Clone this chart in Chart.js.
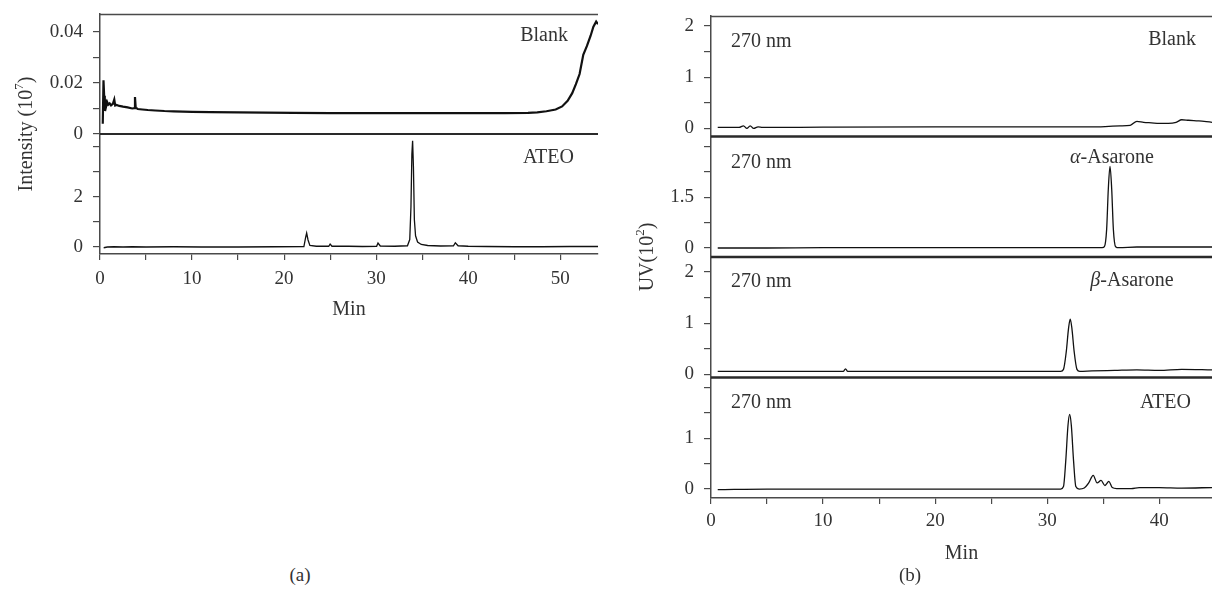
<!DOCTYPE html>
<html>
<head>
<meta charset="utf-8">
<script src="https://cdn.jsdelivr.net/npm/chart.js@4.4.1/dist/chart.umd.min.js"></script>
<style>
  body { margin: 0; background: #fff; width: 1212px; height: 603px; position: relative; overflow: hidden; font-family: "Liberation Serif", serif; }
  #chartA { position: absolute; left: 0; top: 0; }
  #chartB { position: absolute; left: 620px; top: 0; }
  .cap { position: absolute; top: 564px; font-size: 19px; line-height: 22px; color: #333; transform: translateX(-50%); }
</style>
</head>
<body>
<canvas id="chartA" width="610" height="322"></canvas>
<canvas id="chartB" width="592" height="566"></canvas>
<div class="cap" style="left:300px">(a)</div>
<div class="cap" style="left:910px">(b)</div>
<script>
// ---- data ----
// (a) MS total ion chromatograms, intensity in 10^7
const blankA_min = [0.30, 0.38, 0.45, 0.52, 0.60, 0.68, 0.78, 0.90, 1.05, 1.20, 1.40, 1.55, 1.65, 1.80, 2.10, 2.50, 3.00, 3.50, 3.72, 3.80, 3.88, 4.10, 4.60, 5.20, 6.00, 7.00, 8.00, 10.0, 12.0, 15.0, 18.0, 21.0, 25.0, 30.0, 35.0, 40.0, 44.0, 46.5, 47.5, 48.5, 49.5, 50.2, 50.8, 51.3, 51.7, 52.1, 52.5, 52.9, 53.3, 53.6, 53.9, 54.1];
const blankA_int = [0.0040, 0.0210, 0.0150, 0.0090, 0.0135, 0.0110, 0.0125, 0.0115, 0.0120, 0.0112, 0.0118, 0.0135, 0.0112, 0.0114, 0.0110, 0.0107, 0.0104, 0.0100, 0.0101, 0.0145, 0.0103, 0.0098, 0.0096, 0.0094, 0.0092, 0.0090, 0.0089, 0.0087, 0.0086, 0.0085, 0.0084, 0.0083, 0.0082, 0.0082, 0.0082, 0.0082, 0.0082, 0.0083, 0.0085, 0.0089, 0.0096, 0.0108, 0.0130, 0.0160, 0.0195, 0.0235, 0.0310, 0.0345, 0.0385, 0.0420, 0.0440, 0.0430];

const ateoA_min = [0.40, 0.80, 1.50, 2.50, 3.50, 5.0, 8.0, 11.0, 15.0, 19.0, 22.15, 22.35, 22.45, 22.60, 22.80, 23.5, 24.85, 25.00, 25.20, 27.0, 28.5, 30.05, 30.20, 30.45, 32.0, 33.4, 33.65, 33.78, 33.88, 33.96, 34.05, 34.15, 34.28, 34.50, 34.90, 35.6, 37.0, 38.40, 38.60, 38.90, 40.0, 42.0, 45.0, 48.0, 51.0, 54.1];
const ateoA_int = [-0.03, 0.00, 0.01, 0.00, 0.01, 0.00, 0.01, 0.00, 0.00, 0.01, 0.02, 0.40, 0.56, 0.28, 0.06, 0.03, 0.03, 0.12, 0.03, 0.03, 0.02, 0.03, 0.16, 0.04, 0.03, 0.05, 0.30, 1.60, 3.70, 4.25, 3.20, 1.10, 0.45, 0.20, 0.10, 0.06, 0.04, 0.05, 0.17, 0.05, 0.03, 0.02, 0.01, 0.01, 0.02, 0.02];

// (b) UV 270 nm, in 10^2
const blankB_min = [0.6, 2.5, 2.9, 3.2, 3.5, 3.8, 4.2, 4.6, 10.0, 20.0, 30.0, 34.5, 35.5, 36.5, 37.4, 38.0, 38.6, 39.3, 40.0, 40.8, 41.5, 42.0, 42.6, 43.3, 44.0, 44.7];
const blankB_uv  = [0.02, 0.02, 0.05, 0.00, 0.05, 0.00, 0.03, 0.02, 0.025, 0.03, 0.03, 0.03, 0.04, 0.05, 0.06, 0.14, 0.12, 0.11, 0.10, 0.10, 0.12, 0.17, 0.16, 0.15, 0.14, 0.12];

const alphaB_min = [0.6, 5.0, 10.0, 20.0, 30.0, 34.9, 35.1, 35.3, 35.45, 35.6, 35.75, 35.9, 36.1, 36.4, 38.0, 41.0, 44.7];
const alphaB_uv  = [0.0, 0.0, 0.01, 0.01, 0.01, 0.01, 0.04, 0.55, 1.75, 2.41, 1.75, 0.55, 0.04, 0.01, 0.03, 0.03, 0.03];

const betaB_min = [0.6, 5.0, 10.0, 11.8, 12.0, 12.2, 20.0, 31.2, 31.45, 31.7, 31.9, 32.05, 32.2, 32.4, 32.65, 32.9, 34.0, 36.0, 38.0, 40.0, 42.0, 44.7];
const betaB_uv  = [0.06, 0.06, 0.06, 0.06, 0.11, 0.06, 0.06, 0.06, 0.10, 0.45, 0.90, 1.08, 0.90, 0.45, 0.10, 0.06, 0.07, 0.08, 0.09, 0.08, 0.10, 0.09];

const ateoB_min = [0.6, 5.0, 10.0, 20.0, 31.2, 31.45, 31.65, 31.85, 32.0, 32.15, 32.35, 32.55, 32.85, 33.3, 33.7, 34.1, 34.45, 34.8, 35.15, 35.5, 35.8, 36.2, 37.5, 38.2, 40.0, 42.0, 44.7];
const ateoB_uv  = [-0.01, 0.0, 0.0, 0.0, 0.0, 0.05, 0.55, 1.25, 1.47, 1.25, 0.55, 0.05, 0.0, 0.02, 0.12, 0.27, 0.12, 0.17, 0.07, 0.15, 0.03, 0.01, 0.01, 0.03, 0.03, 0.02, 0.03];

// names and tick labels
const panelNamesA = ['Blank', 'ATEO'];
const panelNamesB = ['Blank', 'α-Asarone', 'β-Asarone', 'ATEO'];
const wavelength = '270 nm';
const ticksA_x = [0, 10, 20, 30, 40, 50];
const ticksB_x = [0, 10, 20, 30, 40];
const ticksA_blank = [0, 0.02, 0.04];
const ticksA_ateo = [0, 2];
const ticksB_blank = [0, 1, 2];
const ticksB_alpha = [0, 1.5];
const ticksB_beta = [0, 1, 2];
const ticksB_ateo = [0, 1];

// ---- styling ----
const axisColor = '#4a4a4a';
const textColor = '#333';
const lineColor = '#111';
const serif = '"Liberation Serif", serif';
const tickFont = { family: serif, size: 19 };

function pts(xs, ys) {
    return xs.map((x, i) => ({ x: x, y: ys[i] }));
}

function yAxis(min, max, step, labels, weight, width) {
    return {
        type: 'linear',
        position: 'left',
        stack: 'panels',
        stackWeight: 1,
        weight: weight,
        min: min,
        max: max,
        border: { display: true, color: axisColor, width: 1.5 },
        grid: { drawOnChartArea: false, drawTicks: true, tickLength: 7, color: axisColor, lineWidth: 1.2 },
        ticks: {
            stepSize: step,
            includeBounds: false,
            autoSkip: false,
            padding: 10,
            color: textColor,
            font: tickFont,
            callback: v => labels.some(l => Math.abs(l - v) < 1e-9) ? String(v) : ''
        },
        afterFit: s => {
            s.width = width;
            s.paddingTop = 0; s.paddingBottom = 0;
        }
    };
}

function xAxis(max, labels, pad) {
    return {
        type: 'linear',
        position: 'bottom',
        min: 0,
        max: max,
        border: { display: true, color: axisColor, width: 1.5 },
        grid: { drawOnChartArea: false, drawTicks: true, tickLength: 6, color: axisColor, lineWidth: 1.2 },
        ticks: {
            stepSize: 5,
            includeBounds: false,
            autoSkip: false,
            maxRotation: 0,
            padding: pad,
            color: textColor,
            font: tickFont,
            callback: v => labels.includes(v) ? String(v) : ''
        },
        title: { display: true, text: 'Min', color: textColor, font: { family: serif, size: 20 }, padding: { top: 0, bottom: 0 } },
        afterFit: s => {
            s.height = 68;
            s.paddingLeft = 0; s.paddingRight = 0;
        }
    };
}

function trace(data, yId, width, smooth) {
    return {
        data: data,
        yAxisID: yId,
        xAxisID: 'x',
        borderColor: lineColor,
        borderWidth: width,
        pointRadius: 0,
        fill: false,
        tension: smooth ? 0.4 : 0,
        cubicInterpolationMode: smooth ? 'monotone' : 'default'
    };
}

function segsOf(name) {
    if (/^[αβ]/.test(name)) return [{ t: name[0], italic: true }, { t: name.slice(1) }];
    return [{ t: name }];
}

function drawSegs(ctx, segs, x, y, align, size) {
    const fonts = segs.map(s => (s.italic ? 'italic ' : '') + size + 'px ' + serif);
    const widths = segs.map((s, i) => { ctx.font = fonts[i]; return ctx.measureText(s.t).width; });
    const total = widths.reduce((a, b) => a + b, 0);
    let cx = align === 'left' ? x : align === 'right' ? x - total : x - total / 2;
    ctx.textAlign = 'left';
    ctx.textBaseline = 'middle';
    segs.forEach((s, i) => { ctx.font = fonts[i]; ctx.fillText(s.t, cx, y); cx += widths[i]; });
}

// frame lines, panel dividers, in-panel labels and the rotated y title
const panelDecor = {
    id: 'panelDecor',
    afterDraw(chart, args, opts) {
        const { ctx, chartArea: a, scales } = chart;
        ctx.save();
        ctx.strokeStyle = axisColor;
        ctx.lineWidth = 1.5;
        ctx.beginPath();
        ctx.moveTo(a.left, a.top + 0.5);
        ctx.lineTo(a.right, a.top + 0.5);
        ctx.stroke();
        ctx.strokeStyle = '#2a2a2a';
        ctx.lineWidth = opts.dividerWidth;
        opts.dividers.forEach(id => {
            const y = scales[id].bottom;
            ctx.beginPath();
            ctx.moveTo(a.left, y);
            ctx.lineTo(a.right, y);
            ctx.stroke();
        });

        ctx.fillStyle = textColor;
        opts.labels.forEach(l => {
            const s = scales[l.axis];
            const x = l.align === 'left' ? a.left + l.dx : a.right - l.dx;
            drawSegs(ctx, segsOf(l.text), x, s.top + l.dy, l.align, 20);
        });

        // y title with superscript
        const t = opts.yTitle;
        const cy = (a.top + a.bottom) / 2;
        ctx.translate(t.x, cy);
        ctx.rotate(-Math.PI / 2);
        ctx.textBaseline = 'middle';
        ctx.textAlign = 'left';
        const big = '20px ' + serif, small = '13px ' + serif;
        ctx.font = big; const w1 = ctx.measureText(t.main).width;
        ctx.font = small; const w2 = ctx.measureText(t.sup).width;
        ctx.font = big; const w3 = ctx.measureText(t.after).width;
        let sx = -(w1 + w2 + w3) / 2;
        ctx.font = big; ctx.fillText(t.main, sx, 0);
        ctx.font = small; ctx.fillText(t.sup, sx + w1, -7);
        ctx.font = big; ctx.fillText(t.after, sx + w1 + w2, 0);
        ctx.restore();
    }
};

function initCharts() {
    // (a)
    new Chart(document.getElementById('chartA'), {
        type: 'line',
        data: {
            datasets: [
                trace(pts(blankA_min, blankA_int), 'yBlank', 2.2, false),
                trace(pts(ateoA_min, ateoA_int), 'yAteo', 1.3, false)
            ]
        },
        options: {
            responsive: false,
            animation: false,
            layout: { padding: { top: 14, right: 12, left: 0, bottom: 0 } },
            scales: {
                x: xAxis(54.1, ticksA_x, 8),
                yAteo: yAxis(-0.28, 4.52, 1, ticksA_ateo, 1, 100),
                yBlank: yAxis(0, 0.047, 0.01, ticksA_blank, 2, 100)
            },
            plugins: {
                legend: { display: false },
                tooltip: { enabled: false },
                panelDecor: {
                    dividerWidth: 2,
                    dividers: ['yBlank'],
                    labels: [
                        { axis: 'yBlank', text: panelNamesA[0], align: 'right', dx: 30, dy: 22 },
                        { axis: 'yAteo', text: panelNamesA[1], align: 'right', dx: 24, dy: 24 }
                    ],
                    yTitle: { x: 27, main: 'Intensity (10', sup: '7', after: ')' }
                }
            }
        },
        plugins: [panelDecor]
    });

    // (b)
    new Chart(document.getElementById('chartB'), {
        type: 'line',
        data: {
            datasets: [
                trace(pts(blankB_min, blankB_uv), 'y1', 1.3, true),
                trace(pts(alphaB_min, alphaB_uv), 'y2', 1.3, true),
                trace(pts(betaB_min, betaB_uv), 'y3', 1.3, true),
                trace(pts(ateoB_min, ateoB_uv), 'y4', 1.3, true)
            ]
        },
        options: {
            responsive: false,
            animation: false,
            layout: { padding: { top: 16, right: 0, left: 0, bottom: 0 } },
            scales: {
                x: xAxis(44.7, ticksB_x, 6),
                y4: yAxis(-0.176, 2.196, 0.5, ticksB_ateo, 1, 91),
                y3: yAxis(-0.059, 2.294, 0.5, ticksB_beta, 2, 91),
                y2: yAxis(-0.265, 3.29, 0.75, ticksB_alpha, 3, 91),
                y1: yAxis(-0.157, 2.196, 0.5, ticksB_blank, 4, 91)
            },
            plugins: {
                legend: { display: false },
                tooltip: { enabled: false },
                panelDecor: {
                    dividerWidth: 2.5,
                    dividers: ['y1', 'y2', 'y3'],
                    labels: [
                        { axis: 'y1', text: wavelength, align: 'left', dx: 20, dy: 26 },
                        { axis: 'y2', text: wavelength, align: 'left', dx: 20, dy: 26 },
                        { axis: 'y3', text: wavelength, align: 'left', dx: 20, dy: 25 },
                        { axis: 'y4', text: wavelength, align: 'left', dx: 20, dy: 25 },
                        { axis: 'y1', text: panelNamesB[0], align: 'right', dx: 16, dy: 24 },
                        { axis: 'y2', text: panelNamesB[1], align: 'center', dx: 100, dy: 21 },
                        { axis: 'y3', text: panelNamesB[2], align: 'center', dx: 80, dy: 24 },
                        { axis: 'y4', text: panelNamesB[3], align: 'right', dx: 21, dy: 25 }
                    ],
                    yTitle: { x: 28, main: 'UV(10', sup: '2', after: ')' }
                }
            }
        },
        plugins: [panelDecor]
    });
}

document.addEventListener('DOMContentLoaded', function() {
    initCharts();
});
</script>
</body>
</html>
